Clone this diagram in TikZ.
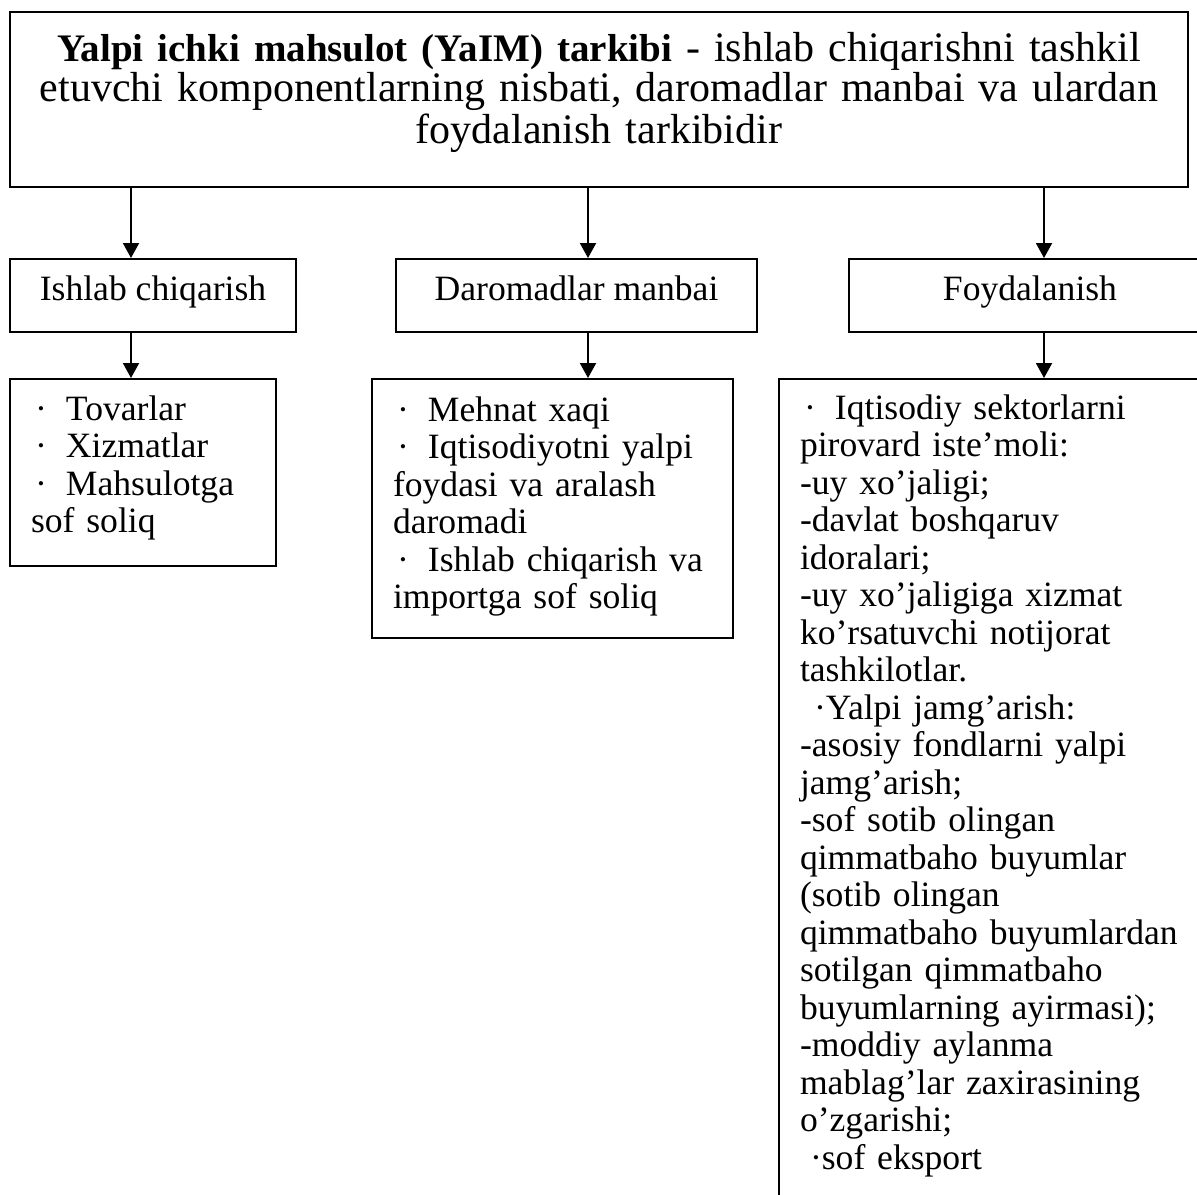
\documentclass[tikz,border=0pt]{standalone}
\usepackage{fontspec}
\setmainfont{Liberation Serif}
\usetikzlibrary{positioning, arrows.meta}

\newcommand{\itemdot}{\makebox[17.5pt][l]{\hspace{2pt}·}}

\begin{document}
\begin{tikzpicture}[
    x=0.5pt, y=0.5pt,
    every node/.style={draw, rectangle, line width=1pt, inner sep=0pt, anchor=north west},
    title/.style={font=\fontsize{21pt}{20.5pt}\selectfont, align=center, text width=589pt, text height=24.5pt, text depth=63pt},
    head/.style={font=\fontsize{17.8pt}{18.75pt}\selectfont, text height=20.5pt, text depth=16pt},
    list/.style={font=\fontsize{17.8pt}{18.75pt}\selectfont, align=left, inner xsep=10.5pt},
    arrow/.style={-{Triangle[width=8pt,length=7.5pt]}, line width=1pt}
]
\useasboundingbox (0,0) rectangle (1197,-1194);
\clip (0,0) rectangle (1197,-1194);

\node[title] (yaim) at (9,-11) {{\fontsize{19.5pt}{20.5pt}\selectfont\bfseries Yalpi ichki mahsulot (YaIM) tarkibi} - ishlab chiqarishni tashkil\\ etuvchi komponentlarning nisbati, daromadlar manbai va ulardan\\ foydalanish tarkibidir};

\node[head, minimum width=143pt] (ishlab) at (9,-258) {Ishlab chiqarish};
\node[head, minimum width=180.5pt] (daromad) at (395,-258) {Daromadlar manbai};
\node[head, minimum width=181pt] (foyda) at (848,-258) {Foydalanish};

\node[list, text width=112pt, text height=20.5pt, text depth=73pt] (ishlabList) at (9,-378) {\itemdot Tovarlar\\ \itemdot Xizmatlar\\ \itemdot Mahsulotga\\ sof soliq};
\node[list, text width=159.5pt, text height=21pt, text depth=108.5pt] (daromadList) at (371,-378) {\itemdot Mehnat xaqi\\ \itemdot Iqtisodiyotni yalpi\\ foydasi va aralash\\ daromadi\\ \itemdot Ishlab chiqarish va\\ importga sof soliq};
\node[list, text width=240pt, text height=20pt, text depth=401pt] (foydaList) at (778,-378) {\itemdot Iqtisodiy sektorlarni\\ pirovard iste’moli:\\ -uy xo’jaligi;\\ -davlat boshqaruv\\ idoralari;\\ -uy xo’jaligiga xizmat\\ ko’rsatuvchi notijorat\\ tashkilotlar.\\ \hspace*{7pt}·Yalpi jamg’arish:\\ -asosiy fondlarni yalpi\\ jamg’arish;\\ -sof sotib olingan\\ qimmatbaho buyumlar\\ (sotib olingan\\ qimmatbaho buyumlardan\\ sotilgan qimmatbaho\\ buyumlarning ayirmasi);\\ -moddiy aylanma\\ mablag’lar zaxirasining\\ o’zgarishi;\\ \hspace*{5pt}·sof eksport};

\coordinate (a1) at ([xshift=-11pt]ishlab.north);
\coordinate (a2) at ([xshift=5.75pt]daromad.north);
\coordinate (a3) at ([xshift=7pt]foyda.north);

\draw[arrow] (a1 |- yaim.south) -- (a1);
\draw[arrow] (a2 |- yaim.south) -- (a2);
\draw[arrow] (a3 |- yaim.south) -- (a3);
\draw[arrow] (a1 |- ishlab.south) -- (a1 |- ishlabList.north);
\draw[arrow] (a2 |- daromad.south) -- (a2 |- daromadList.north);
\draw[arrow] (a3 |- foyda.south) -- (a3 |- foydaList.north);
\end{tikzpicture}
\end{document}
